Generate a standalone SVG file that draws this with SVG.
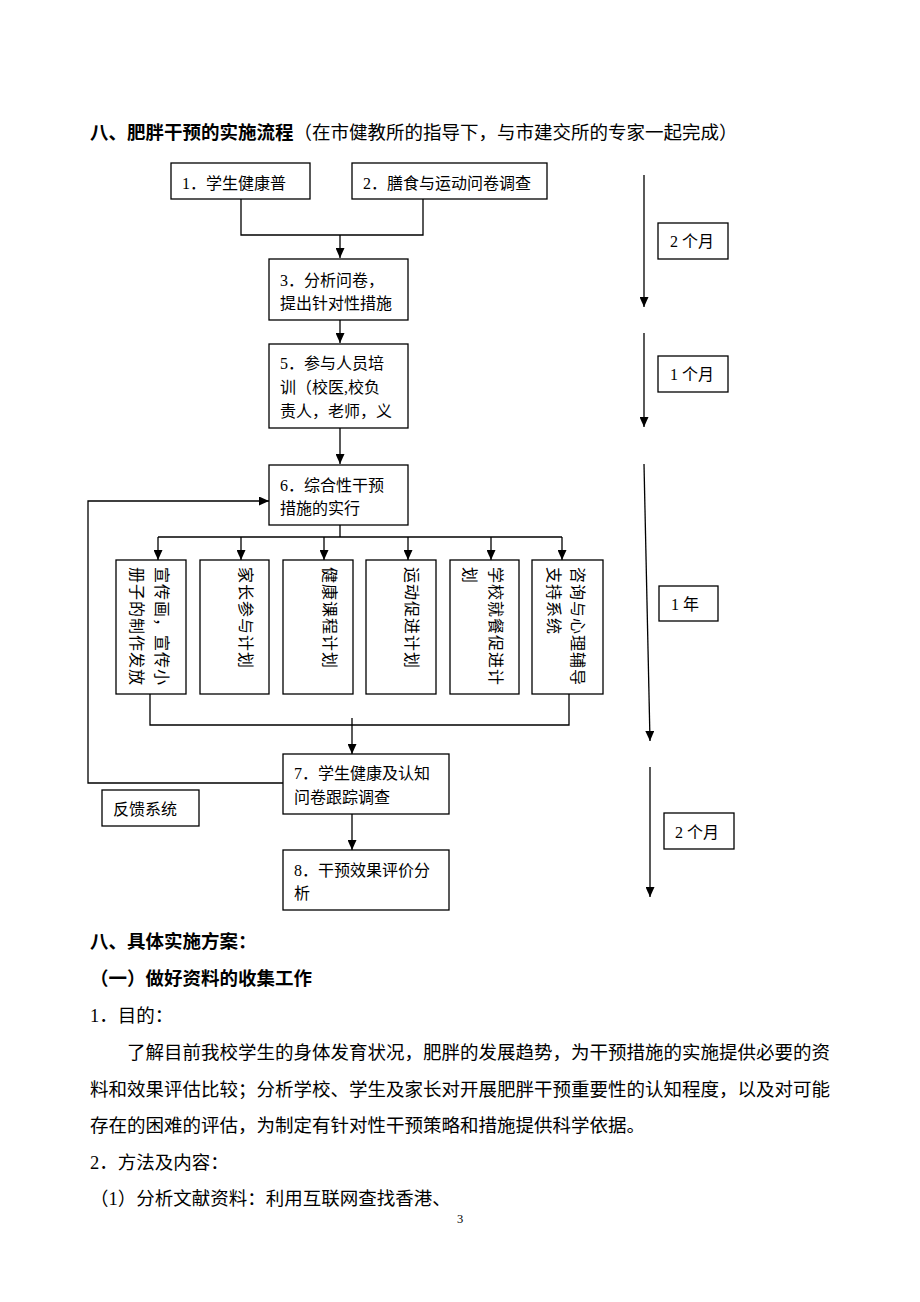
<svg xmlns="http://www.w3.org/2000/svg" width="920" height="1302" viewBox="0 0 920 1302">
<style>
text{font-family:"Liberation Serif","Noto Sans CJK SC",serif;fill:#000}
.b{font-size:16px}
.v{font-size:16px;letter-spacing:1px}
.p{font-size:18.5px}
.h{font-size:18.5px;font-weight:bold}
.box{fill:#fff;stroke:#000;stroke-width:1.3}
.ln{fill:none;stroke:#000;stroke-width:1.3}
</style>
<defs>
<marker id="ah" markerUnits="userSpaceOnUse" markerWidth="10" markerHeight="9" refX="10" refY="4.5" orient="auto">
<path d="M0,0 L10,4.5 L0,9 z" fill="#000"/>
</marker>
</defs>
<rect width="920" height="1302" fill="#fff"/>

<text x="90" y="139" class="p"><tspan class="h">八、肥胖干预的实施流程</tspan>（在市健教所的指导下，与市建交所的专家一起完成）</text>

<g id="connectors">
<polyline class="ln" points="241,199 241,235 423,235 423,199"/>
<line class="ln" x1="340" y1="235" x2="340" y2="258" marker-end="url(#ah)"/>
<line class="ln" x1="340" y1="320" x2="340" y2="343" marker-end="url(#ah)"/>
<line class="ln" x1="340" y1="428" x2="340" y2="464" marker-end="url(#ah)"/>
<line class="ln" x1="340" y1="525" x2="340" y2="537"/>
<line class="ln" x1="158" y1="537" x2="562" y2="537"/>
<line class="ln" x1="158" y1="537" x2="158" y2="560" marker-end="url(#ah)"/>
<line class="ln" x1="241" y1="537" x2="241" y2="560" marker-end="url(#ah)"/>
<line class="ln" x1="324" y1="537" x2="324" y2="560" marker-end="url(#ah)"/>
<line class="ln" x1="408" y1="537" x2="408" y2="560" marker-end="url(#ah)"/>
<line class="ln" x1="491" y1="537" x2="491" y2="560" marker-end="url(#ah)"/>
<line class="ln" x1="562" y1="537" x2="562" y2="560" marker-end="url(#ah)"/>
<polyline class="ln" points="150,694 150,725 569,725 569,694"/>
<line class="ln" x1="352" y1="718" x2="352" y2="754" marker-end="url(#ah)"/>
<line class="ln" x1="352" y1="814" x2="352" y2="850" marker-end="url(#ah)"/>
<polyline class="ln" points="283,783 88,783 88,501 269,501" marker-end="url(#ah)"/>
<line class="ln" x1="644" y1="175" x2="644" y2="307" marker-end="url(#ah)"/>
<line class="ln" x1="644" y1="333" x2="644" y2="427" marker-end="url(#ah)"/>
<line class="ln" x1="644" y1="464" x2="650" y2="741" marker-end="url(#ah)"/>
<line class="ln" x1="650" y1="767" x2="650" y2="897" marker-end="url(#ah)"/>
</g>

<g id="n1"><rect class="box" x="171" y="163" width="139" height="36"/><text class="b" x="182" y="189">1．学生健康普</text></g>
<g id="n2"><rect class="box" x="352" y="163" width="195" height="36"/><text class="b" x="363" y="189">2．膳食与运动问卷调查</text></g>
<g id="n3"><rect class="box" x="269" y="259" width="139" height="61"/><text class="b" x="280" y="286">3．分析问卷，</text><text class="b" x="280" y="309">提出针对性措施</text></g>
<g id="n5"><rect class="box" x="269" y="344" width="139" height="84"/><text class="b" x="280" y="369">5．参与人员培</text><text class="b" x="280" y="393">训（校医,校负</text><text class="b" x="280" y="417">责人，老师，义</text></g>
<g id="n6"><rect class="box" x="269" y="465" width="139" height="60"/><text class="b" x="280" y="491">6．综合性干预</text><text class="b" x="280" y="514">措施的实行</text></g>

<g id="va"><rect class="box" x="116" y="560" width="70" height="134"/><text class="v" transform="rotate(90 156 567)" x="156" y="567">宣传画，宣传小</text><text class="v" transform="rotate(90 131 567)" x="131" y="567">册子的制作发放</text></g>
<g id="vb"><rect class="box" x="200" y="560" width="69" height="134"/><text class="v" transform="rotate(90 240 567)" x="240" y="567">家长参与计划</text></g>
<g id="vc"><rect class="box" x="283" y="560" width="70" height="134"/><text class="v" transform="rotate(90 324 567)" x="324" y="567">健康课程计划</text></g>
<g id="vd"><rect class="box" x="366" y="560" width="70" height="134"/><text class="v" transform="rotate(90 406 567)" x="406" y="567">运动促进计划</text></g>
<g id="ve"><rect class="box" x="450" y="560" width="69" height="134"/><text class="v" transform="rotate(90 490 567)" x="490" y="567">学校就餐促进计</text><text class="v" transform="rotate(90 464 567)" x="464" y="567">划</text></g>
<g id="vf"><rect class="box" x="532" y="560" width="71" height="134"/><text class="v" transform="rotate(90 572 567)" x="572" y="567">咨询与心理辅导</text><text class="v" transform="rotate(90 548 567)" x="548" y="567">支持系统</text></g>

<g id="n7"><rect class="box" x="283" y="754" width="166" height="60"/><text class="b" x="294" y="779">7．学生健康及认知</text><text class="b" x="294" y="803">问卷跟踪调查</text></g>
<g id="n8"><rect class="box" x="283" y="850" width="166" height="60"/><text class="b" x="294" y="876">8．干预效果评价分</text><text class="b" x="294" y="899">析</text></g>
<g id="fb"><rect class="box" x="102" y="790" width="97" height="36"/><text class="b" x="113" y="815">反馈系统</text></g>

<g id="t1"><rect class="box" x="658" y="223" width="70" height="36"/><text class="b" x="670" y="247">2 个月</text></g>
<g id="t2"><rect class="box" x="658" y="356" width="70" height="36"/><text class="b" x="670" y="380">1 个月</text></g>
<g id="t3"><rect class="box" x="659" y="586" width="59" height="35"/><text class="b" x="671" y="610">1 年</text></g>
<g id="t4"><rect class="box" x="664" y="813" width="70" height="36"/><text class="b" x="675" y="838">2 个月</text></g>

<text class="h" x="90" y="948">八、具体实施方案：</text>
<text class="h" x="90" y="985">（一）做好资料的收集工作</text>
<text class="p" x="90" y="1022">1．目的：</text>
<text class="p" x="127" y="1059" textLength="703" lengthAdjust="spacing">了解目前我校学生的身体发育状况，肥胖的发展趋势，为干预措施的实施提供必要的资</text>
<text class="p" x="90" y="1096" textLength="740" lengthAdjust="spacing">料和效果评估比较；分析学校、学生及家长对开展肥胖干预重要性的认知程度，以及对可能</text>
<text class="p" x="90" y="1132">存在的困难的评估，为制定有针对性干预策略和措施提供科学依据。</text>
<text class="p" x="90" y="1169">2．方法及内容：</text>
<text class="p" x="90" y="1205">（1）分析文献资料：利用互联网查找香港、</text>
<text x="457" y="1223" style="font-size:12.5px">3</text>
</svg>
